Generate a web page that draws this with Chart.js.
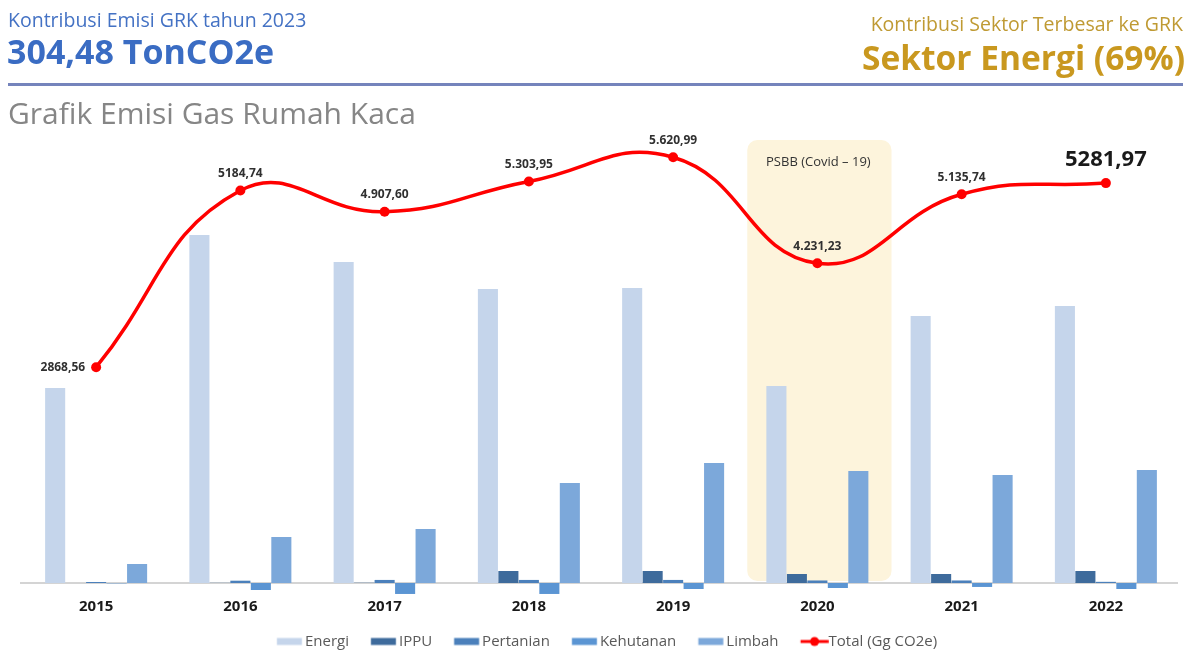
<!DOCTYPE html>
<html>
<head>
<meta charset="utf-8">
<script src="https://cdn.jsdelivr.net/npm/chart.js@4.4.1/dist/chart.umd.min.js"></script>
<style>
  html, body { margin: 0; padding: 0; background: #ffffff; overflow: hidden; }
  #wrap { position: relative; width: 1188px; height: 650px; overflow: hidden; font-family: "Open Sans", sans-serif; }
  .t { position: absolute; white-space: nowrap; line-height: 1; }
  #k1 { left: 8px; top: 10px; font-size: 19.5px; color: #4472c4; }
  #k2 { left: 7px; top: 34px; font-size: 34px; font-weight: 700; color: #3a6cc3; }
  #rule { position: absolute; left: 8px; top: 83px; width: 1175px; height: 3px; background: #7584bc; }
  #g1 { left: 8px; top: 98px; font-size: 30px; color: #868686; }
  #r1 { right: 5px; top: 14px; font-size: 19.5px; color: #bf9a33; }
  #r2 { right: 3px; top: 41px; font-size: 33.5px; font-weight: 700; color: #c9981f; }
  #c { position: absolute; left: 0; top: 0; }
</style>
</head>
<body>
<div id="wrap">
  <canvas id="c" width="1188" height="659"></canvas>
  <div class="t" id="k1">Kontribusi Emisi GRK tahun 2023</div>
  <div class="t" id="k2">304,48 TonCO2e</div>
  <div id="rule"></div>
  <div class="t" id="g1">Grafik Emisi Gas Rumah Kaca</div>
  <div class="t" id="r1">Kontribusi Sektor Terbesar ke GRK</div>
  <div class="t" id="r2">Sektor Energi (69%)</div>
</div>
<script>
// ---- data (Gg CO2e) ----
const categories = ['2015', '2016', '2017', '2018', '2019', '2020', '2021', '2022'];
const energi     = [2556, 4562, 4208, 3854, 3866, 2583, 3500, 3631];
const ippu       = [0, 2, 3, 157, 157, 118, 118, 157];
const pertanian  = [13, 30, 40, 40, 40, 33, 33, 15];
const kehutanan  = [-5, -92, -144, -144, -79, -66, -52, -79];
const limbah     = [249, 603, 708, 1311, 1573, 1468, 1416, 1481];
const total      = [2868.56, 5184.74, 4907.60, 5303.95, 5620.99, 4231.23, 5135.74, 5281.97];
const totalLabels = ['2868,56', '5184,74', '4.907,60', '5.303,95', '5.620,99', '4.231,23', '5.135,74', '5281,97'];
const seriesNames = ['Energi', 'IPPU', 'Pertanian', 'Kehutanan', 'Limbah', 'Total (Gg CO2e)'];
const highlightIndex = 5;
const highlightText = 'PSBB (Covid \u2013 19)';

const FONT = '"Open Sans", sans-serif';
const barColors = ['#c5d5eb', '#3e6b9c', '#4b80bb', '#5b95d3', '#7ca8da'];
const lineColor = '#ff0000';

// legend icons (swatch placed close to its text)
const ICON_W = 48, STYLE_W = 32.5;
function makeIcon(color, isLine) {
  const cv = document.createElement('canvas');
  cv.width = ICON_W; cv.height = 12;
  const g = cv.getContext('2d');
  const start = ICON_W / 2 - STYLE_W / 2 + 12;   // visible swatch start
  if (isLine) {
    g.strokeStyle = color; g.lineWidth = 3;
    g.beginPath(); g.moveTo(start, 6); g.lineTo(start + 28, 6); g.stroke();
    g.fillStyle = color; g.beginPath(); g.arc(start + 14, 6, 4.5, 0, Math.PI * 2); g.fill();
  } else {
    g.fillStyle = color;
    g.fillRect(start, 2.5, 25, 7);
  }
  return cv;
}

const highlightPlugin = {
  id: 'highlight',
  beforeDatasetsDraw(chart) {
    const { ctx, chartArea, scales } = chart;
    const x = scales.x, y = scales.y;
    const left = x.getPixelForValue(highlightIndex - 0.5) + 2;
    const right = x.getPixelForValue(highlightIndex + 0.5) + 2;
    const top = chartArea.top;
    const bottom = y.getPixelForValue(0) - 2;
    ctx.save();
    ctx.fillStyle = '#fdf4dc';
    ctx.beginPath();
    ctx.roundRect(left, top, right - left, bottom - top, 10);
    ctx.fill();
    ctx.fillStyle = '#333333';
    ctx.font = '13px ' + FONT;
    ctx.textAlign = 'center';
    ctx.textBaseline = 'middle';
    ctx.fillText(highlightText, (left + right) / 2 - 1, top + 22);
    // zero baseline
    const zy = y.getPixelForValue(0);
    ctx.strokeStyle = '#d4d4d4';
    ctx.lineWidth = 2;
    ctx.beginPath();
    ctx.moveTo(chartArea.left - 4, zy);
    ctx.lineTo(chartArea.right, zy);
    ctx.stroke();
    ctx.restore();
  }
};

const labelPlugin = {
  id: 'lineLabels',
  afterDatasetsDraw(chart) {
    const { ctx } = chart;
    const meta = chart.getDatasetMeta(5);
    ctx.save();
    ctx.textBaseline = 'middle';
    meta.data.forEach((pt, i) => {
      const last = i === meta.data.length - 1;
      ctx.fillStyle = '#303030';
      if (i === 0) {
        ctx.font = 'bold 12px ' + FONT;
        ctx.textAlign = 'right';
        ctx.fillText(totalLabels[i], pt.x - 11, pt.y);
      } else if (last) {
        ctx.font = 'bold 22px ' + FONT;
        ctx.fillStyle = '#1a1a1a';
        ctx.textAlign = 'center';
        ctx.fillText(totalLabels[i], pt.x, pt.y - 23);
      } else {
        ctx.font = 'bold 12px ' + FONT;
        ctx.textAlign = 'center';
        ctx.fillText(totalLabels[i], pt.x, pt.y - 17);
      }
    });
    ctx.restore();
  }
};

const barSeries = [energi, ippu, pertanian, kehutanan, limbah];
const datasets = barSeries.map((vals, i) => ({
  type: 'bar',
  label: seriesNames[i],
  data: vals,
  backgroundColor: barColors[i],
  borderWidth: 0,
  yAxisID: 'y',
  categoryPercentage: 0.71,
  barPercentage: 0.98,
  clip: false,
  order: 1
}));
datasets.push({
  type: 'line',
  label: seriesNames[5],
  data: total,
  borderColor: lineColor,
  backgroundColor: lineColor,
  borderWidth: 3.5,
  tension: 0.45,
  pointRadius: 5,
  pointBorderWidth: 0,
  pointBackgroundColor: lineColor,
  yAxisID: 'y1',
  clip: false,
  order: -1
});

const icons = datasets.map(ds => makeIcon(ds.backgroundColor, ds.type === 'line'));

new Chart(document.getElementById('c'), {
  data: { labels: categories, datasets },
  plugins: [highlightPlugin, labelPlugin],
  options: {
    responsive: false,
    animation: false,
    devicePixelRatio: 1,
    layout: { padding: { top: 140, left: 24, right: 10, bottom: 0 } },
    scales: {
      x: {
        grid: { display: false, drawTicks: false },
        border: { display: false },
        ticks: {
          padding: 9.5,
          color: '#1a1a1a',
          font: { family: FONT, size: 15, weight: 'bold', lineHeight: 1 }
        }
      },
      y: { display: false, min: -92, max: 5808 },
      y1: { display: false, min: -52, max: 5847 }
    },
    plugins: {
      tooltip: { enabled: false },
      legend: {
        position: 'bottom',
        labels: {
          padding: 10,
          usePointStyle: true,
          pointStyleWidth: STYLE_W,
          boxHeight: 12,
          color: '#595959',
          font: { family: FONT, size: 15 },
          generateLabels(chart) {
            return chart.data.datasets.map((ds, i) => ({
              text: ds.label,
              fillStyle: ds.backgroundColor,
              strokeStyle: ds.backgroundColor,
              lineWidth: 0,
              pointStyle: icons[i],
              hidden: false,
              datasetIndex: i,
              fontColor: '#595959'
            }));
          }
        }
      }
    }
  }
});
</script>
</body>
</html>
